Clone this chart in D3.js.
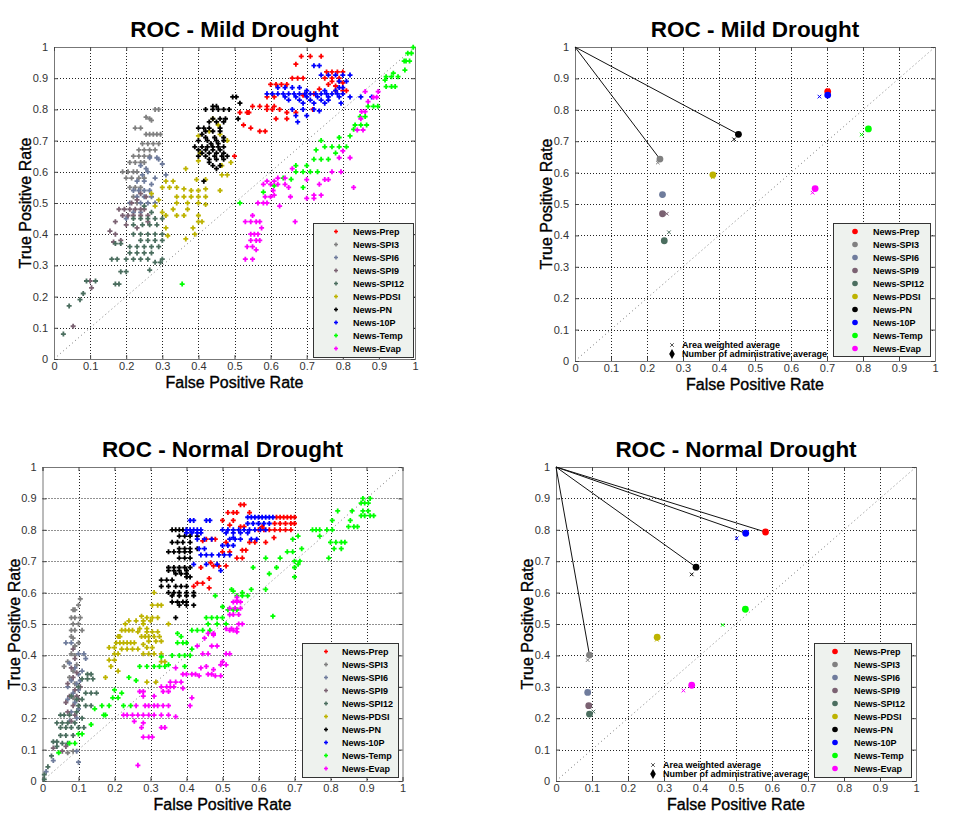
<!DOCTYPE html>
<html><head><meta charset="utf-8">
<script src="https://cdn.jsdelivr.net/npm/d3@7"></script>
<style>body{margin:0;background:#fff}svg{display:block}text{font-family:"Liberation Sans",Arial,sans-serif}</style>
</head><body><svg id="c" width="958" height="831"></svg>
<script>
// ---------------- data ----------------
const seriesNames = ["News-Prep","News-SPI3","News-SPI6","News-SPI9","News-SPI12","News-PDSI","News-PN","News-10P","News-Temp","News-Evap"];
const seriesColors = ["#ff0000","#808080","#6f7c9c","#7b6272","#4b6e5f","#bdb300","#000000","#0000ff","#00ff00","#ff00ff"];
const tickValues = [0,0.1,0.2,0.3,0.4,0.5,0.6,0.7,0.8,0.9,1];
const tickLabels = ["0","0.1","0.2","0.3","0.4","0.5","0.6","0.7","0.8","0.9","1"];
const titleMild = "ROC - Mild Drought";
const titleNormal = "ROC - Normal Drought";
const xLabel = "False Positive Rate";
const yLabel = "True Positive Rate";
const avgLegend = ["Area weighted average","Number of administrative average"];

// Mild drought, per-region ROC points [FPR, TPR]
const mildPrep = [[0.685,0.97],[0.71,0.97],[0.74,0.97],[0.67,0.945],[0.66,0.90],[0.675,0.90],[0.69,0.90],[0.75,0.90],[0.77,0.90],[0.79,0.90],[0.755,0.92],[0.77,0.92],[0.785,0.92],[0.80,0.92],[0.77,0.89],[0.79,0.89],[0.80,0.885],[0.78,0.875],[0.78,0.86],[0.80,0.86],[0.81,0.86],[0.60,0.88],[0.615,0.88],[0.63,0.88],[0.645,0.88],[0.59,0.84],[0.61,0.84],[0.55,0.81],[0.57,0.81],[0.59,0.81],[0.61,0.81],[0.59,0.80],[0.605,0.80],[0.625,0.80],[0.615,0.77],[0.645,0.77],[0.54,0.79],[0.515,0.79],[0.535,0.79],[0.645,0.79],[0.67,0.79],[0.717,0.80],[0.525,0.75],[0.545,0.74],[0.57,0.73],[0.585,0.73],[0.50,0.65],[0.69,0.845],[0.72,0.85],[0.76,0.88],[0.735,0.865]];
const mildSPI3 = [[0.28,0.80],[0.29,0.80],[0.255,0.775],[0.265,0.77],[0.27,0.765],[0.225,0.74],[0.24,0.74],[0.255,0.72],[0.265,0.72],[0.275,0.72],[0.285,0.72],[0.295,0.72],[0.245,0.69],[0.26,0.69],[0.275,0.69],[0.29,0.69],[0.235,0.67],[0.25,0.67],[0.265,0.67],[0.28,0.67],[0.22,0.65],[0.235,0.65],[0.25,0.65],[0.265,0.65],[0.21,0.63],[0.225,0.63],[0.24,0.63],[0.25,0.63],[0.19,0.60],[0.205,0.60],[0.22,0.60],[0.23,0.60],[0.20,0.58],[0.215,0.58],[0.235,0.58],[0.25,0.58],[0.21,0.55],[0.225,0.55],[0.24,0.55],[0.22,0.52],[0.23,0.50]];
const mildSPI6 = [[0.265,0.645],[0.285,0.645],[0.29,0.64],[0.24,0.62],[0.30,0.625],[0.31,0.59],[0.28,0.58],[0.26,0.60],[0.27,0.56],[0.22,0.54],[0.235,0.54],[0.25,0.54],[0.265,0.54],[0.23,0.52],[0.25,0.52],[0.27,0.52],[0.21,0.50],[0.24,0.50],[0.26,0.50],[0.28,0.50],[0.22,0.47],[0.24,0.47],[0.20,0.45],[0.23,0.57],[0.25,0.57],[0.255,0.61],[0.245,0.59]];
const mildSPI9 = [[0.18,0.48],[0.195,0.48],[0.21,0.48],[0.225,0.48],[0.24,0.48],[0.25,0.48],[0.19,0.46],[0.205,0.46],[0.22,0.46],[0.24,0.46],[0.26,0.46],[0.17,0.44],[0.155,0.41],[0.17,0.40],[0.215,0.50],[0.23,0.51],[0.24,0.53],[0.255,0.52],[0.20,0.43],[0.185,0.38],[0.165,0.375],[0.10,0.25],[0.104,0.228],[0.053,0.105],[0.26,0.44],[0.23,0.42]];
const mildSPI12 = [[0.22,0.45],[0.24,0.45],[0.26,0.45],[0.28,0.45],[0.30,0.45],[0.22,0.43],[0.245,0.43],[0.265,0.43],[0.285,0.43],[0.22,0.40],[0.24,0.40],[0.26,0.40],[0.28,0.40],[0.30,0.40],[0.24,0.38],[0.26,0.38],[0.28,0.38],[0.30,0.38],[0.21,0.36],[0.23,0.36],[0.25,0.36],[0.27,0.36],[0.29,0.36],[0.21,0.34],[0.23,0.34],[0.25,0.34],[0.27,0.34],[0.16,0.32],[0.175,0.32],[0.20,0.32],[0.22,0.32],[0.24,0.32],[0.26,0.32],[0.30,0.32],[0.28,0.31],[0.295,0.31],[0.185,0.28],[0.20,0.28],[0.17,0.24],[0.18,0.24],[0.265,0.285],[0.17,0.37],[0.185,0.37],[0.09,0.25],[0.115,0.25],[0.081,0.21],[0.072,0.19],[0.042,0.17],[0.026,0.08],[0.27,0.47],[0.25,0.49]];
const mildPDSI = [[0.44,0.77],[0.455,0.75],[0.43,0.73],[0.40,0.715],[0.48,0.70],[0.46,0.72],[0.405,0.66],[0.40,0.635],[0.49,0.63],[0.465,0.62],[0.365,0.61],[0.465,0.59],[0.48,0.59],[0.31,0.57],[0.33,0.57],[0.395,0.575],[0.42,0.575],[0.30,0.55],[0.32,0.55],[0.34,0.55],[0.36,0.545],[0.38,0.54],[0.40,0.54],[0.42,0.545],[0.46,0.54],[0.34,0.52],[0.36,0.52],[0.38,0.52],[0.40,0.52],[0.42,0.52],[0.34,0.50],[0.37,0.50],[0.40,0.50],[0.33,0.48],[0.37,0.48],[0.31,0.46],[0.34,0.46],[0.36,0.46],[0.40,0.46],[0.40,0.44],[0.41,0.44],[0.31,0.42],[0.385,0.42],[0.39,0.40],[0.365,0.385],[0.315,0.395],[0.27,0.53],[0.29,0.51],[0.28,0.49],[0.30,0.47],[0.42,0.495]];
const mildPN = [[0.495,0.84],[0.505,0.84],[0.515,0.82],[0.51,0.77],[0.42,0.80],[0.44,0.80],[0.455,0.80],[0.47,0.80],[0.485,0.80],[0.44,0.81],[0.45,0.81],[0.44,0.77],[0.46,0.77],[0.475,0.77],[0.43,0.76],[0.45,0.76],[0.47,0.76],[0.40,0.74],[0.415,0.74],[0.43,0.74],[0.46,0.74],[0.42,0.73],[0.44,0.73],[0.46,0.73],[0.42,0.71],[0.445,0.71],[0.47,0.71],[0.40,0.70],[0.425,0.70],[0.45,0.70],[0.47,0.70],[0.39,0.68],[0.41,0.68],[0.425,0.68],[0.44,0.68],[0.455,0.68],[0.47,0.68],[0.40,0.67],[0.42,0.67],[0.44,0.67],[0.46,0.67],[0.41,0.66],[0.43,0.66],[0.45,0.66],[0.47,0.66],[0.40,0.65],[0.42,0.65],[0.445,0.65],[0.465,0.65],[0.48,0.65],[0.43,0.64],[0.45,0.64],[0.47,0.64],[0.44,0.62],[0.46,0.62],[0.45,0.61],[0.415,0.57],[0.435,0.69],[0.455,0.69],[0.41,0.72],[0.43,0.63]];
const mild10P = [[0.59,0.85],[0.605,0.85],[0.62,0.85],[0.635,0.85],[0.65,0.85],[0.665,0.85],[0.68,0.85],[0.695,0.85],[0.71,0.85],[0.725,0.85],[0.74,0.85],[0.755,0.85],[0.77,0.85],[0.785,0.85],[0.80,0.85],[0.62,0.87],[0.64,0.87],[0.66,0.87],[0.68,0.87],[0.79,0.87],[0.80,0.87],[0.64,0.84],[0.67,0.84],[0.70,0.84],[0.73,0.84],[0.76,0.84],[0.79,0.84],[0.82,0.84],[0.85,0.84],[0.88,0.84],[0.65,0.83],[0.68,0.83],[0.71,0.83],[0.74,0.83],[0.76,0.83],[0.69,0.82],[0.72,0.82],[0.75,0.82],[0.795,0.82],[0.66,0.80],[0.69,0.80],[0.72,0.80],[0.67,0.78],[0.70,0.78],[0.675,0.76],[0.74,0.91],[0.76,0.91],[0.78,0.91],[0.80,0.91],[0.82,0.91],[0.72,0.94],[0.735,0.94],[0.79,0.89],[0.81,0.89],[0.70,0.86],[0.75,0.86],[0.78,0.86],[0.735,0.795]];
const mildTemp = [[0.995,0.999],[0.99,0.98],[0.98,0.98],[0.97,0.955],[0.985,0.955],[0.975,0.955],[0.972,0.926],[0.94,0.916],[0.92,0.905],[0.935,0.905],[0.953,0.905],[0.917,0.894],[0.92,0.873],[0.935,0.873],[0.945,0.873],[0.87,0.81],[0.885,0.81],[0.897,0.81],[0.848,0.777],[0.862,0.777],[0.834,0.75],[0.85,0.75],[0.866,0.75],[0.83,0.736],[0.79,0.71],[0.82,0.715],[0.75,0.68],[0.77,0.68],[0.79,0.68],[0.81,0.68],[0.726,0.67],[0.72,0.64],[0.74,0.64],[0.76,0.64],[0.67,0.62],[0.70,0.62],[0.67,0.60],[0.69,0.60],[0.71,0.60],[0.73,0.60],[0.657,0.576],[0.635,0.58],[0.61,0.555],[0.58,0.535],[0.69,0.55],[0.515,0.50],[0.355,0.24],[0.74,0.70],[0.78,0.66]];
const mildEvap = [[0.53,0.32],[0.55,0.32],[0.535,0.36],[0.55,0.36],[0.56,0.35],[0.545,0.38],[0.56,0.38],[0.57,0.38],[0.545,0.40],[0.555,0.40],[0.565,0.40],[0.575,0.42],[0.53,0.44],[0.545,0.44],[0.56,0.44],[0.57,0.44],[0.55,0.46],[0.668,0.44],[0.565,0.50],[0.58,0.50],[0.59,0.50],[0.585,0.52],[0.60,0.52],[0.61,0.525],[0.625,0.49],[0.655,0.52],[0.70,0.515],[0.72,0.515],[0.72,0.525],[0.74,0.525],[0.607,0.54],[0.58,0.56],[0.60,0.56],[0.62,0.56],[0.64,0.56],[0.65,0.55],[0.59,0.57],[0.61,0.57],[0.62,0.58],[0.64,0.58],[0.66,0.61],[0.70,0.575],[0.735,0.56],[0.75,0.575],[0.76,0.575],[0.77,0.60],[0.795,0.60],[0.79,0.645],[0.82,0.645],[0.80,0.667],[0.83,0.55],[0.84,0.734],[0.856,0.734],[0.85,0.77],[0.852,0.793],[0.862,0.793],[0.87,0.825],[0.885,0.839],[0.894,0.839],[0.862,0.857],[0.898,0.857]];

// Normal drought, per-region ROC points [FPR, TPR]
const normPrep = [[0.55,0.88],[0.56,0.88],[0.515,0.855],[0.53,0.855],[0.54,0.855],[0.575,0.855],[0.50,0.83],[0.53,0.83],[0.65,0.84],[0.66,0.84],[0.67,0.84],[0.68,0.84],[0.69,0.84],[0.70,0.84],[0.645,0.82],[0.66,0.82],[0.675,0.82],[0.69,0.82],[0.70,0.82],[0.60,0.80],[0.615,0.80],[0.63,0.80],[0.645,0.80],[0.66,0.80],[0.675,0.80],[0.69,0.80],[0.55,0.81],[0.56,0.81],[0.455,0.77],[0.47,0.77],[0.445,0.765],[0.48,0.77],[0.51,0.76],[0.643,0.775],[0.62,0.76],[0.575,0.76],[0.59,0.76],[0.50,0.73],[0.52,0.73],[0.555,0.735],[0.565,0.735],[0.54,0.71],[0.555,0.71],[0.475,0.685],[0.49,0.685],[0.51,0.685],[0.467,0.695],[0.44,0.68],[0.463,0.645],[0.43,0.63],[0.445,0.63],[0.463,0.615],[0.42,0.62],[0.52,0.815],[0.61,0.81]];
const normSPI3 = [[0.105,0.58],[0.10,0.56],[0.085,0.545],[0.09,0.545],[0.08,0.52],[0.09,0.52],[0.105,0.52],[0.085,0.50],[0.10,0.50],[0.08,0.48],[0.09,0.48],[0.11,0.48],[0.08,0.46],[0.085,0.455],[0.09,0.43],[0.08,0.405],[0.09,0.40],[0.06,0.365],[0.07,0.38],[0.085,0.35],[0.075,0.33],[0.09,0.31],[0.085,0.265],[0.07,0.09],[0.085,0.095],[0.10,0.44],[0.095,0.37]];
const normSPI6 = [[0.065,0.44],[0.08,0.44],[0.10,0.405],[0.115,0.405],[0.12,0.39],[0.075,0.375],[0.09,0.36],[0.10,0.34],[0.08,0.32],[0.095,0.31],[0.07,0.30],[0.10,0.29],[0.085,0.28],[0.07,0.26],[0.09,0.25],[0.10,0.23],[0.08,0.22],[0.095,0.20],[0.075,0.19],[0.10,0.06],[0.03,0.065],[0.095,0.095],[0.01,0.03],[0.11,0.35],[0.105,0.32]];
const normSPI9 = [[0.085,0.42],[0.09,0.39],[0.08,0.36],[0.095,0.345],[0.085,0.33],[0.07,0.31],[0.09,0.29],[0.075,0.27],[0.095,0.27],[0.065,0.25],[0.085,0.24],[0.07,0.22],[0.09,0.21],[0.08,0.19],[0.065,0.11],[0.055,0.095],[0.03,0.105],[0.105,0.30],[0.10,0.26]];
const normSPI12 = [[0.125,0.34],[0.135,0.34],[0.11,0.325],[0.125,0.325],[0.14,0.325],[0.12,0.28],[0.135,0.28],[0.15,0.28],[0.095,0.26],[0.11,0.26],[0.10,0.24],[0.12,0.24],[0.135,0.24],[0.05,0.21],[0.06,0.21],[0.075,0.21],[0.04,0.185],[0.055,0.185],[0.07,0.185],[0.09,0.185],[0.05,0.17],[0.065,0.17],[0.08,0.17],[0.10,0.17],[0.115,0.17],[0.05,0.145],[0.065,0.145],[0.085,0.145],[0.03,0.125],[0.04,0.125],[0.055,0.12],[0.07,0.12],[0.04,0.11],[0.025,0.08],[0.015,0.045],[0.005,0.02],[0.005,0.005],[0.10,0.30],[0.08,0.27],[0.11,0.20],[0.095,0.22]];
const normPDSI = [[0.31,0.60],[0.305,0.56],[0.32,0.56],[0.33,0.56],[0.29,0.52],[0.305,0.52],[0.32,0.52],[0.275,0.525],[0.35,0.50],[0.24,0.51],[0.26,0.51],[0.28,0.51],[0.30,0.51],[0.23,0.50],[0.28,0.50],[0.24,0.48],[0.25,0.48],[0.27,0.485],[0.29,0.485],[0.22,0.48],[0.23,0.48],[0.265,0.475],[0.29,0.475],[0.305,0.475],[0.32,0.475],[0.275,0.46],[0.285,0.46],[0.295,0.46],[0.31,0.46],[0.325,0.46],[0.21,0.46],[0.215,0.46],[0.205,0.44],[0.215,0.44],[0.225,0.44],[0.235,0.44],[0.245,0.44],[0.255,0.44],[0.28,0.435],[0.295,0.445],[0.315,0.445],[0.33,0.445],[0.185,0.425],[0.2,0.425],[0.22,0.42],[0.235,0.42],[0.25,0.42],[0.265,0.42],[0.29,0.425],[0.305,0.425],[0.2,0.405],[0.21,0.405],[0.28,0.405],[0.295,0.405],[0.31,0.405],[0.33,0.405],[0.185,0.385],[0.2,0.385],[0.33,0.38],[0.34,0.38],[0.19,0.365],[0.21,0.35],[0.175,0.33],[0.315,0.315],[0.29,0.315]];
const normPN = [[0.36,0.80],[0.37,0.80],[0.38,0.80],[0.39,0.80],[0.40,0.80],[0.38,0.78],[0.395,0.78],[0.41,0.78],[0.43,0.78],[0.36,0.76],[0.375,0.76],[0.39,0.76],[0.41,0.76],[0.38,0.74],[0.395,0.74],[0.41,0.74],[0.43,0.74],[0.35,0.73],[0.365,0.73],[0.38,0.73],[0.395,0.73],[0.41,0.73],[0.38,0.71],[0.395,0.71],[0.41,0.71],[0.35,0.68],[0.365,0.68],[0.38,0.68],[0.395,0.68],[0.41,0.68],[0.35,0.67],[0.365,0.67],[0.38,0.67],[0.40,0.67],[0.37,0.66],[0.385,0.66],[0.40,0.66],[0.40,0.65],[0.41,0.65],[0.33,0.64],[0.345,0.64],[0.36,0.64],[0.33,0.62],[0.35,0.62],[0.37,0.62],[0.385,0.62],[0.40,0.62],[0.35,0.60],[0.365,0.60],[0.38,0.60],[0.40,0.60],[0.42,0.60],[0.36,0.59],[0.38,0.59],[0.40,0.59],[0.42,0.59],[0.36,0.57],[0.375,0.57],[0.39,0.57],[0.40,0.57],[0.38,0.56],[0.40,0.56],[0.42,0.56],[0.37,0.52]];
const norm10P = [[0.41,0.83],[0.42,0.83],[0.455,0.83],[0.465,0.83],[0.40,0.80],[0.41,0.80],[0.42,0.80],[0.43,0.80],[0.44,0.80],[0.40,0.79],[0.415,0.79],[0.43,0.79],[0.44,0.79],[0.57,0.84],[0.58,0.84],[0.59,0.84],[0.60,0.84],[0.61,0.84],[0.62,0.84],[0.63,0.84],[0.64,0.84],[0.57,0.82],[0.585,0.82],[0.60,0.82],[0.615,0.82],[0.63,0.82],[0.50,0.80],[0.515,0.80],[0.53,0.80],[0.545,0.80],[0.56,0.80],[0.575,0.80],[0.59,0.80],[0.605,0.80],[0.62,0.80],[0.51,0.79],[0.53,0.79],[0.55,0.79],[0.57,0.79],[0.43,0.77],[0.45,0.77],[0.47,0.77],[0.52,0.77],[0.535,0.77],[0.55,0.77],[0.58,0.77],[0.595,0.77],[0.50,0.75],[0.515,0.75],[0.53,0.75],[0.435,0.74],[0.45,0.74],[0.44,0.72],[0.455,0.72],[0.47,0.72],[0.49,0.72],[0.505,0.72],[0.52,0.72],[0.42,0.69],[0.455,0.69],[0.485,0.69],[0.495,0.67],[0.53,0.775]];
const normTemp = [[0.89,0.90],[0.91,0.90],[0.885,0.885],[0.895,0.885],[0.905,0.885],[0.89,0.86],[0.905,0.86],[0.885,0.845],[0.895,0.845],[0.91,0.845],[0.92,0.845],[0.875,0.81],[0.85,0.81],[0.865,0.81],[0.855,0.83],[0.86,0.86],[0.82,0.86],[0.805,0.83],[0.79,0.80],[0.805,0.80],[0.77,0.78],[0.75,0.80],[0.76,0.80],[0.77,0.80],[0.71,0.78],[0.695,0.77],[0.80,0.76],[0.815,0.76],[0.83,0.76],[0.84,0.76],[0.81,0.74],[0.83,0.74],[0.795,0.71],[0.68,0.73],[0.695,0.73],[0.72,0.74],[0.70,0.70],[0.715,0.70],[0.71,0.69],[0.70,0.68],[0.70,0.65],[0.66,0.71],[0.62,0.71],[0.65,0.68],[0.63,0.66],[0.585,0.68],[0.62,0.61],[0.58,0.61],[0.525,0.61],[0.53,0.605],[0.555,0.60],[0.54,0.59],[0.555,0.59],[0.57,0.59],[0.48,0.59],[0.50,0.555],[0.515,0.545],[0.53,0.545],[0.54,0.545],[0.64,0.525],[0.455,0.52],[0.47,0.52],[0.485,0.52],[0.50,0.52],[0.46,0.50],[0.485,0.50],[0.51,0.50],[0.415,0.48],[0.43,0.48],[0.445,0.48],[0.465,0.48],[0.375,0.47],[0.385,0.46],[0.375,0.44],[0.39,0.44],[0.40,0.44],[0.415,0.42],[0.36,0.40],[0.38,0.40],[0.395,0.40],[0.41,0.40],[0.33,0.395],[0.395,0.365],[0.27,0.365],[0.29,0.365],[0.31,0.365],[0.325,0.365],[0.34,0.365],[0.35,0.37],[0.24,0.33],[0.26,0.32],[0.20,0.29],[0.22,0.28],[0.195,0.265],[0.21,0.265],[0.165,0.24],[0.185,0.24],[0.225,0.24],[0.245,0.24],[0.145,0.23],[0.17,0.21],[0.175,0.21],[0.135,0.18],[0.10,0.15],[0.11,0.15],[0.075,0.12],[0.09,0.12],[0.045,0.09]];
const normEvap = [[0.54,0.585],[0.54,0.575],[0.53,0.57],[0.54,0.57],[0.55,0.57],[0.52,0.55],[0.535,0.55],[0.55,0.55],[0.52,0.53],[0.53,0.53],[0.545,0.53],[0.46,0.47],[0.475,0.47],[0.51,0.485],[0.525,0.485],[0.54,0.485],[0.545,0.50],[0.555,0.50],[0.52,0.48],[0.53,0.48],[0.54,0.475],[0.475,0.465],[0.45,0.455],[0.47,0.43],[0.485,0.43],[0.43,0.43],[0.51,0.405],[0.52,0.405],[0.445,0.405],[0.46,0.405],[0.50,0.38],[0.495,0.37],[0.51,0.37],[0.475,0.355],[0.48,0.335],[0.495,0.335],[0.455,0.365],[0.44,0.36],[0.415,0.34],[0.425,0.34],[0.46,0.34],[0.47,0.34],[0.39,0.34],[0.40,0.34],[0.435,0.335],[0.37,0.36],[0.355,0.315],[0.37,0.315],[0.385,0.315],[0.33,0.30],[0.345,0.30],[0.355,0.30],[0.365,0.30],[0.335,0.285],[0.35,0.285],[0.27,0.285],[0.28,0.285],[0.39,0.295],[0.28,0.27],[0.31,0.27],[0.285,0.24],[0.295,0.24],[0.31,0.24],[0.32,0.24],[0.335,0.24],[0.35,0.24],[0.26,0.24],[0.41,0.24],[0.415,0.265],[0.25,0.21],[0.265,0.21],[0.28,0.21],[0.295,0.21],[0.31,0.21],[0.33,0.21],[0.35,0.21],[0.225,0.21],[0.235,0.21],[0.37,0.205],[0.255,0.19],[0.28,0.185],[0.275,0.17],[0.33,0.17],[0.34,0.17],[0.28,0.14],[0.295,0.14],[0.305,0.14],[0.265,0.05]];

// Averages, in series order [FPR, TPR]
const mildAdminAvg = [[0.702,0.858],[0.236,0.643],[0.243,0.53],[0.243,0.469],[0.248,0.383],[0.383,0.593],[0.454,0.722],[0.702,0.847],[0.815,0.739],[0.667,0.549]];
const mildAreaAvg  = [[0.703,0.862],[0.23,0.632],[0.245,0.528],[0.255,0.469],[0.261,0.41],[0.383,0.585],[0.442,0.706],[0.679,0.842],[0.796,0.721],[0.66,0.536]];
const normAdminAvg = [[0.582,0.793],[0.093,0.401],[0.088,0.282],[0.091,0.24],[0.093,0.213],[0.281,0.458],[0.389,0.681],[0.527,0.789],[0.526,0.547],[0.377,0.305]];
const normAreaAvg  = [[0.58,0.79],[0.088,0.385],[0.09,0.285],[0.092,0.24],[0.104,0.221],[0.28,0.45],[0.377,0.658],[0.502,0.773],[0.463,0.497],[0.354,0.288]];
const mildLinked = ["News-PN","News-SPI3"];
const normLinked = ["News-Prep","News-10P","News-PN","News-SPI3"];

const mildScatter = [mildPrep,mildSPI3,mildSPI6,mildSPI9,mildSPI12,mildPDSI,mildPN,mild10P,mildTemp,mildEvap];
const normScatter = [normPrep,normSPI3,normSPI6,normSPI9,normSPI12,normPDSI,normPN,norm10P,normTemp,normEvap];

// ---------------- drawing ----------------
const svg = d3.select("#c");
const plusPath = "M-2.5,0H2.5M0,-2.5V2.5";

function drawPanel(p){
  const x = d3.scaleLinear().domain([0,1]).range([p.x0,p.x1]);
  const y = d3.scaleLinear().domain([0,1]).range([p.y1,p.y0]);
  const g = svg.append("g");
  const cx = v => Math.round(x(v))+0.5, cy = v => Math.round(y(v))+0.5;
  const gv = tickValues.slice(1,-1);
  g.selectAll(null).data(gv).join("line")
    .attr("x1",d=>cx(d)).attr("x2",d=>cx(d)).attr("y1",p.y0).attr("y2",p.y1)
    .attr("stroke","#222").attr("stroke-width",1).attr("stroke-dasharray","1,2");
  g.selectAll(null).data(gv).join("line")
    .attr("y1",d=>cy(d)).attr("y2",d=>cy(d)).attr("x1",p.x0).attr("x2",p.x1)
    .attr("stroke","#222").attr("stroke-width",1).attr("stroke-dasharray","1,2");
  g.append("line").attr("x1",x(0)).attr("y1",y(0)).attr("x2",x(1)).attr("y2",y(1))
    .attr("stroke","#555").attr("stroke-width",0.8).attr("stroke-dasharray","1,3");
  const axB = d3.axisBottom(x).tickValues(tickValues).tickFormat((d,i)=>tickLabels[i]).tickSize(-4).tickPadding(3);
  const axL = d3.axisLeft(y).tickValues(tickValues).tickFormat((d,i)=>tickLabels[i]).tickSize(-4).tickPadding(6);
  const axT = d3.axisTop(x).tickValues(tickValues).tickFormat("").tickSize(-4);
  const axR = d3.axisRight(y).tickValues(tickValues).tickFormat("").tickSize(-4);
  const style = s => { s.select(".domain").attr("stroke","#777");
    s.selectAll(".tick line").attr("stroke","#444");
    s.selectAll("text").attr("font-size",11).attr("fill","#333").attr("font-family","'Liberation Sans',Arial,sans-serif"); };
  g.append("g").attr("transform",`translate(0,${p.y1})`).call(axB).call(style);
  g.append("g").attr("transform",`translate(${p.x0},0)`).call(axL).call(style);
  g.append("g").attr("transform",`translate(0,${p.y0})`).call(axT).call(style);
  g.append("g").attr("transform",`translate(${p.x1},0)`).call(axR).call(style);
  g.append("text").attr("x",(p.x0+p.x1)/2).attr("y",p.y0-10).attr("text-anchor","middle")
    .attr("font-size",22.5).attr("font-weight","bold").text(p.title);
  g.append("text").attr("x",(p.x0+p.x1)/2).attr("y",p.y1+29).attr("text-anchor","middle")
    .attr("font-size",16).attr("stroke","#000").attr("stroke-width",0.35).text(xLabel);
  g.append("text").attr("transform",`translate(${p.x0-23},${(p.y0+p.y1)/2}) rotate(-90)`).attr("text-anchor","middle")
    .attr("font-size",16).attr("stroke","#000").attr("stroke-width",0.35).text(yLabel);

  if(p.scatter){
    p.scatter.forEach((pts,i)=>{
      g.append("g").selectAll("path").data(pts).join("path")
        .attr("d",plusPath).attr("transform",d=>`translate(${x(d[0])},${y(d[1])})`)
        .attr("stroke",seriesColors[i]).attr("stroke-width",1.8).attr("fill","none");
    });
  } else {
    p.linked.forEach(n=>{
      const d = p.admin[seriesNames.indexOf(n)];
      g.append("path").attr("d",d3.line().x(v=>x(v[0])).y(v=>y(v[1]))([[0,1],d]))
        .attr("stroke","#111").attr("stroke-width",1).attr("fill","none");
    });
    p.area.forEach((d,i)=>{
      g.append("path").attr("d","M-1.8,-1.8L1.8,1.8M-1.8,1.8L1.8,-1.8")
        .attr("transform",`translate(${x(d[0])},${y(d[1])})`)
        .attr("stroke",seriesColors[i]).attr("stroke-width",1).attr("fill","none");
    });
    g.selectAll(null).data(p.admin).join("circle")
      .attr("cx",d=>x(d[0])).attr("cy",d=>y(d[1])).attr("r",3.4)
      .attr("fill",(d,i)=>seriesColors[i]);
    const ax = p.x0+97, ay1 = p.y1-16, ay2 = p.y1-7;
    g.append("path").attr("d","M-1.8,-1.8L1.8,1.8M-1.8,1.8L1.8,-1.8").attr("transform",`translate(${ax},${ay1})`)
      .attr("stroke","#555").attr("stroke-width",1);
    g.append("path").attr("d",d3.symbol(d3.symbolDiamond,28)()).attr("transform",`translate(${ax},${ay2})`).attr("fill","#000");
    g.append("text").attr("x",ax+10).attr("y",ay1).attr("dy","0.35em").attr("font-size",9).attr("font-weight","bold").text(avgLegend[0]);
    g.append("text").attr("x",ax+10).attr("y",ay2).attr("dy","0.35em").attr("font-size",9).attr("font-weight","bold").text(avgLegend[1]);
  }
  const L = p.legend;
  const lg = g.append("g");
  lg.append("rect").attr("x",L.x+0.5).attr("y",L.y+0.5).attr("width",L.w).attr("height",L.h)
    .attr("fill","#eef2ee").attr("stroke","#333").attr("stroke-width",1);
  seriesNames.forEach((n,i)=>{
    const ry = L.y + 8.5 + i*13.0;
    if(p.scatter){
      lg.append("path").attr("d","M-2,0H2M0,-2V2").attr("transform",`translate(${L.x+L.mx},${ry})`)
        .attr("stroke",seriesColors[i]).attr("stroke-width",1.5);
    } else {
      lg.append("circle").attr("cx",L.x+L.mx).attr("cy",ry).attr("r",2.8).attr("fill",seriesColors[i]);
    }
    lg.append("text").attr("x",L.x+40).attr("y",ry).attr("dy","0.35em").attr("font-size",9)
      .attr("font-weight","bold").text(n);
  });
}

drawPanel({x0:54,x1:415,y0:47,y1:359,title:titleMild,scatter:mildScatter,legend:{x:313,y:223,w:100,h:134,mx:23}});
drawPanel({x0:575,x1:935,y0:47,y1:361,title:titleMild,admin:mildAdminAvg,area:mildAreaAvg,linked:mildLinked,legend:{x:833,y:223,w:97,h:133,mx:22}});
drawPanel({x0:42.5,x1:402.5,y0:467,y1:781,title:titleNormal,scatter:normScatter,legend:{x:302,y:643,w:96,h:134,mx:24}});
drawPanel({x0:556,x1:916,y0:467,y1:781,title:titleNormal,admin:normAdminAvg,area:normAreaAvg,linked:normLinked,legend:{x:814,y:643,w:97,h:134,mx:21}});
</script></body></html>
